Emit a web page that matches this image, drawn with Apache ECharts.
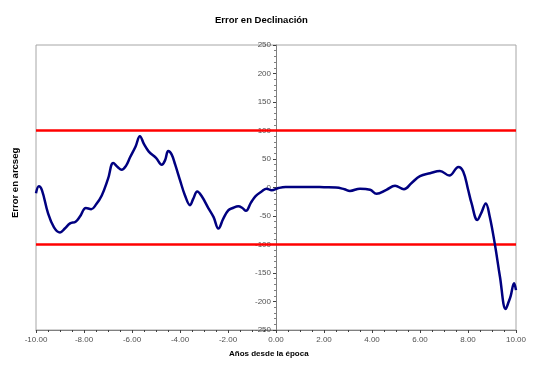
<!DOCTYPE html>
<html>
<head>
<meta charset="utf-8">
<script src="https://cdn.jsdelivr.net/npm/echarts@6/dist/echarts.min.js"></script>
<style>html,body{margin:0;padding:0;background:#fff}#c{width:537px;height:372px}</style>
</head>
<body>
<div id="c"></div>
<script>
const titleText = "Error en Declinación";
const xAxisTitle = "Años desde la época";
const yAxisTitle = "Error en arcseg";
const years = [-10,-9.88,-9.75,-9.5,-9.25,-9.0,-8.8,-8.58,-8.35,-8.17,-7.92,-7.7,-7.5,-7.26,-7.0,-6.78,-6.6,-6.43,-6.25,-6.08,-5.85,-5.67,-5.5,-5.3,-5.0,-4.76,-4.62,-4.49,-4.35,-4.2,-4.0,-3.8,-3.58,-3.45,-3.28,-3.1,-2.82,-2.6,-2.4,-2.2,-1.99,-1.8,-1.57,-1.4,-1.25,-1.05,-0.85,-0.6,-0.39,-0.18,0.1,0.4,1.0,1.5,2.0,2.5,2.85,3.08,3.5,3.92,4.19,4.6,4.96,5.33,5.65,6.0,6.42,6.83,7.22,7.6,7.8,8.0,8.15,8.39,8.55,8.74,8.9,9.125,9.33,9.57,9.7,9.78,9.92,10.0];
const errors = [-10,2,-5,-45,-70,-79,-72,-63,-60,-51,-36,-38,-30,-14,15,43,36,31,38,53,72,90,76,63,52,40,48,64,58,40,13,-13,-31,-20,-7,-15,-36,-52,-72,-55,-40,-36,-33,-36,-41,-27,-15,-7,-2,-5,-1,1,1,1,0.5,0,-3,-6,-2,-4,-11,-4,3,-3,8,20,25,29,21,36,28,-3,-28,-57,-45,-28,-50,-101,-156,-213,-200,-190,-168,-180];
const limits = [100, -100];
const xRange = [-10, 10];
const yRange = [-250, 250];

const chart = echarts.init(document.getElementById('c'), null, {renderer: 'canvas'});
const mainData = years.map((x, i) => [x, errors[i]]);
const limitSeries = limits.map(v => ({
  type: 'line', data: xRange.map(x => [x, v]), symbol: 'none', silent: true,
  lineStyle: {color: '#ff0000', width: 2.5}, z: 3
}));
chart.setOption({
  animation: false,
  title: {
    text: titleText, left: 210, top: 10,
    textStyle: {fontFamily: 'Liberation Sans, Arial', fontSize: 9.5, fontWeight: 'bold', color: '#000'}
  },
  grid: {left: 36, right: 21, top: 45, bottom: 42, show: true, borderColor: '#a6a6a6', borderWidth: 1},
  xAxis: {
    type: 'value', min: xRange[0], max: xRange[1], interval: 2,
    axisLine: {onZero: false, lineStyle: {color: '#808080', width: 1}},
    axisTick: {show: true, length: 3, lineStyle: {color: '#404040'}},
    minorTick: {show: true, splitNumber: 4, length: 2, lineStyle: {color: '#404040'}},
    splitLine: {show: false},
    axisLabel: {formatter: v => v.toFixed(2), fontFamily: 'Liberation Sans, Arial', fontSize: 8, color: '#505050', margin: 6}
  },
  yAxis: {
    type: 'value', min: yRange[0], max: yRange[1], interval: 50,
    position: 'left', offset: -240,
    axisLine: {onZero: false, lineStyle: {color: '#808080', width: 1}},
    axisTick: {show: true, length: 3, lineStyle: {color: '#404040'}},
    minorTick: {show: true, splitNumber: 5, length: 2, lineStyle: {color: '#808080'}},
    splitLine: {show: false},
    axisLabel: {fontFamily: 'Liberation Sans, Arial', fontSize: 8, color: '#505050', margin: 5}
  },
  graphic: [
    {type: 'text', left: 229, top: 350, style: {text: xAxisTitle, font: 'bold 8px "Liberation Sans", Arial', fill: '#000'}},
    {type: 'text', x: 10, y: 218, rotation: Math.PI / 2, style: {text: yAxisTitle, font: 'bold 9.5px "Liberation Sans", Arial', fill: '#000'}}
  ],
  series: [
    ...limitSeries,
    {type: 'line', data: mainData, smooth: 0.4, symbol: 'none', lineStyle: {color: '#000080', width: 2.5}, z: 4}
  ]
});
</script>
</body>
</html>
